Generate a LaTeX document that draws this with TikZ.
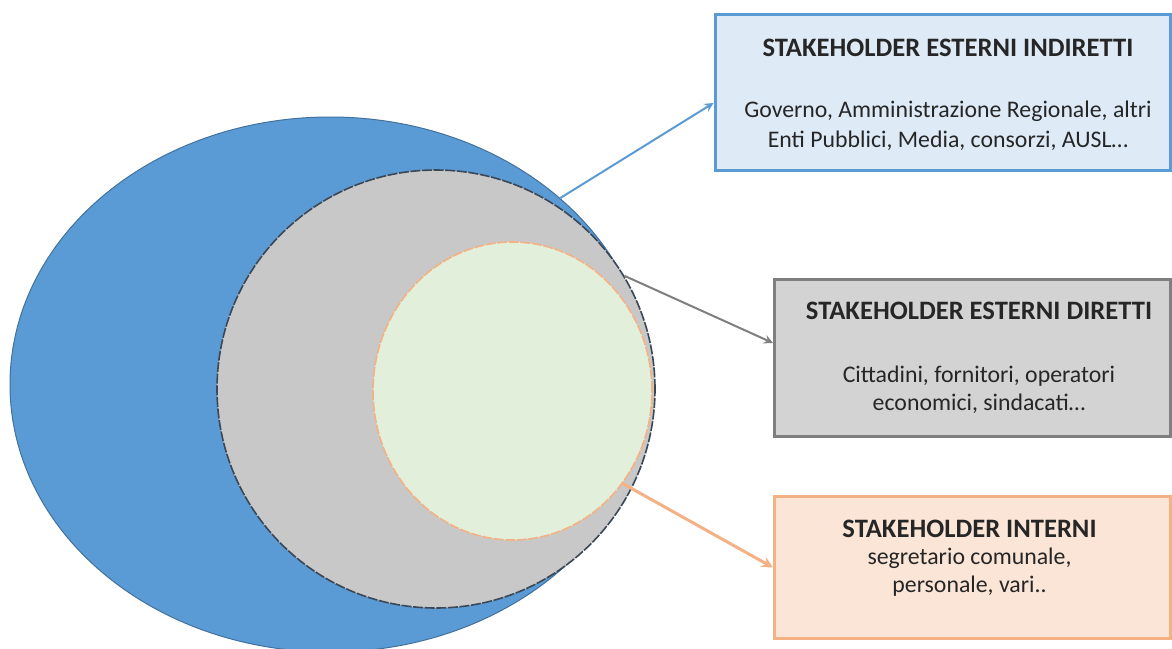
\documentclass[tikz,border=0pt]{standalone}
\usepackage{fontspec}
\setmainfont{Carlito}
\usetikzlibrary{shapes.geometric,arrows}

\definecolor{ringblue}{HTML}{5B9BD5}
\definecolor{ringblueline}{HTML}{41719C}
\definecolor{ringgray}{HTML}{C8C8C8}
\definecolor{ringgrayline}{HTML}{3B4756}
\definecolor{ringgreen}{HTML}{E2EFDA}
\definecolor{ringorange}{HTML}{F4B183}
\definecolor{cardblue}{HTML}{DEEBF7}
\definecolor{cardgray}{HTML}{D3D3D3}
\definecolor{cardgrayline}{HTML}{7F7F7F}
\definecolor{cardorange}{HTML}{FBE5D6}

\newcommand{\cardtitle}[1]{{\fontsize{13.3}{15}\selectfont\bfseries #1}}

\begin{document}
\begin{tikzpicture}[x=0.5pt,y=-0.5pt,
  ring/.style={ellipse,inner sep=0pt},
  card/.style={rectangle,line width=1.5pt,inner sep=0pt},
  cardtext/.style={inner sep=0pt,align=center,text=black!85}]
  \useasboundingbox (0,0) rectangle (1172,648);
  % nested stakeholder rings
  \node[ring,fill=ringblue,draw=ringblueline,line width=0.5pt,
    minimum width=320pt,minimum height=267.5pt] (outer) at (330,384.5) {};
  \node[ring,fill=ringgray,draw=ringgrayline,line width=0.8pt,
    dash pattern=on 5pt off 0.8pt,minimum width=219pt,minimum height=219pt] (middle) at (436,389) {};
  \node[ring,fill=ringgreen,draw=ringorange,line width=0.8pt,
    dash pattern=on 5pt off 0.8pt,minimum width=139.5pt,minimum height=149pt] (inner) at (512.5,391) {};
  % description cards
  \node[card,draw=ringblue,fill=cardblue,minimum width=227.75pt,minimum height=78pt] (indiretti) at (942.75,92.5) {};
  \node[cardtext,font=\fontsize{11.9}{15}\selectfont] (indiretti text) at ([xshift=2.6pt,yshift=-0.9pt]indiretti.center)
    {\cardtitle{STAKEHOLDER ESTERNI INDIRETTI}\\[15.5pt]Governo, Amministrazione Regionale, altri\\Enti Pubblici, Media, consorzi, AUSL…};
  \node[card,draw=cardgrayline,fill=cardgray,minimum width=198pt,minimum height=78.5pt] (diretti) at (972.5,358) {};
  \node[cardtext,font=\fontsize{11.9}{14}\selectfont] (diretti text) at ([xshift=3.25pt]diretti.center)
    {\cardtitle{STAKEHOLDER ESTERNI DIRETTI}\\[17.5pt]Cittadini, fornitori, operatori\\economici, sindacati…};
  \node[card,draw=ringorange,fill=cardorange,minimum width=198pt,minimum height=71pt] (interni) at (972.5,567.5) {};
  \node[cardtext,font=\fontsize{11.9}{14}\selectfont] (interni text) at ([xshift=-1.5pt,yshift=4.5pt]interni.center)
    {\cardtitle{STAKEHOLDER INTERNI}\\[-0.5pt]segretario comunale,\\personale, vari..};
  \path[-stealth]
    (outer.39) edge[draw=ringblue,line width=1pt] ([yshift=-5.25pt]indiretti.west)
    (middle.31) edge[draw=cardgrayline,line width=1pt] ([yshift=7.5pt]diretti.west)
    (inner.-40) edge[draw=ringorange,line width=1.5pt] (interni.west);
\end{tikzpicture}
\end{document}
